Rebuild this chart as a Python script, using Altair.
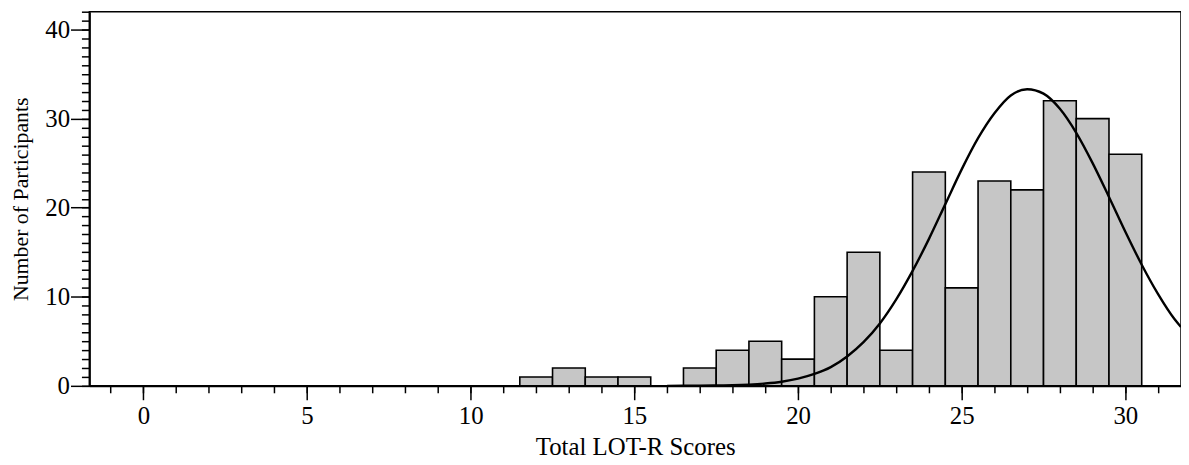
import altair as alt
import pandas as pd

# Histogram of Total LOT-R scores (bar centred on each integer score)
scores = [12, 13, 14, 15, 16, 17, 18, 19, 20, 21, 22, 23, 24, 25, 26, 27, 28, 29, 30]
counts = [1, 2, 1, 1, 0, 2, 4, 5, 3, 10, 15, 4, 24, 11, 23, 22, 32, 30, 26]

# Normal curve
curve_x = [16, 16.5, 17, 17.5, 18, 18.5, 19, 19.5, 20, 20.5, 21, 21.5, 22, 22.5, 23,
           23.5, 24, 24.5, 25, 25.5, 26, 26.5, 27, 27.5, 28, 28.5, 29, 29.5, 30,
           30.5, 31, 31.5, 31.7]
curve_y = [0.0, 0.01, 0.02, 0.04, 0.07, 0.14, 0.26, 0.46, 0.8, 1.33, 2.1, 3.3, 4.9, 7.0, 9.7,
           12.9, 16.5, 20.4, 24.3, 27.8, 30.6, 32.6, 33.3, 32.8, 31.1, 28.4, 25.0, 21.2, 17.3,
           13.6, 10.3, 7.5, 6.6]

x_major = [0, 5, 10, 15, 20, 25, 30]
x_minor = list(range(-1, 32))
y_major = [0, 10, 20, 30, 40]
y_minor = list(range(0, 43))

FONT = "Liberation Serif"

bars_df = pd.DataFrame({"score": scores, "count": counts})
curve_df = pd.DataFrame({"x": curve_x, "y": curve_y})

x_scale = alt.Scale(domain=[-1.65, 31.7], nice=False, zero=False)
y_scale = alt.Scale(domain=[0, 42], nice=False)

common = dict(
    tickWidth=1.5,
    tickColor="black",
    domainColor="black",
    domainWidth=2,
    labelFont=FONT,
    labelFontSize=25,
    labelColor="black",
    labelOverlap=False,
    labelFlush=False,
    titleFont=FONT,
    titleFontWeight="normal",
    titleColor="black",
    grid=False,
)

x_axis = alt.Axis(values=x_major, title="Total LOT-R Scores", orient="bottom",
                  tickSize=14, labelPadding=4, titlePadding=6, titleFontSize=25, **common)
y_axis = alt.Axis(values=y_major, title="Number of Participants", orient="left",
                  tickSize=19, labelPadding=1, titlePadding=12, titleFontSize=22, **common)
x_axis_minor = alt.Axis(values=x_minor, title=None, orient="bottom", labels=False,
                        tickSize=7, domain=False, tickWidth=1.5, tickColor="black", grid=False)
y_axis_minor = alt.Axis(values=y_minor, title=None, orient="left", labels=False,
                        tickSize=8, domain=False, tickWidth=1.5, tickColor="black", grid=False)

bars = alt.Chart(bars_df).transform_calculate(
    lo="datum.score - 0.5", hi="datum.score + 0.5"
).mark_rect(fill="#c6c6c6", stroke="black", strokeWidth=1.6).encode(
    x=alt.X("lo:Q", scale=x_scale, axis=x_axis),
    x2="hi:Q",
    y=alt.Y("count:Q", scale=y_scale, axis=y_axis),
    y2=alt.datum(0),
)

curve = alt.Chart(curve_df).mark_line(
    color="black", strokeWidth=2.4, interpolate="monotone", clip=True
).encode(
    x=alt.X("x:Q", scale=x_scale, axis=x_axis_minor),
    y=alt.Y("y:Q", scale=y_scale, axis=y_axis_minor),
)

chart = alt.layer(bars, curve).resolve_axis(
    x="independent", y="independent"
).properties(
    width=1100,
    height=377,
    padding={"left": 2, "top": 1, "right": 0, "bottom": 0},
).configure(background="white").configure_view(stroke="black", strokeWidth=1.5)

chart.save("out.html", embed_options={"renderer": "svg", "actions": False})
